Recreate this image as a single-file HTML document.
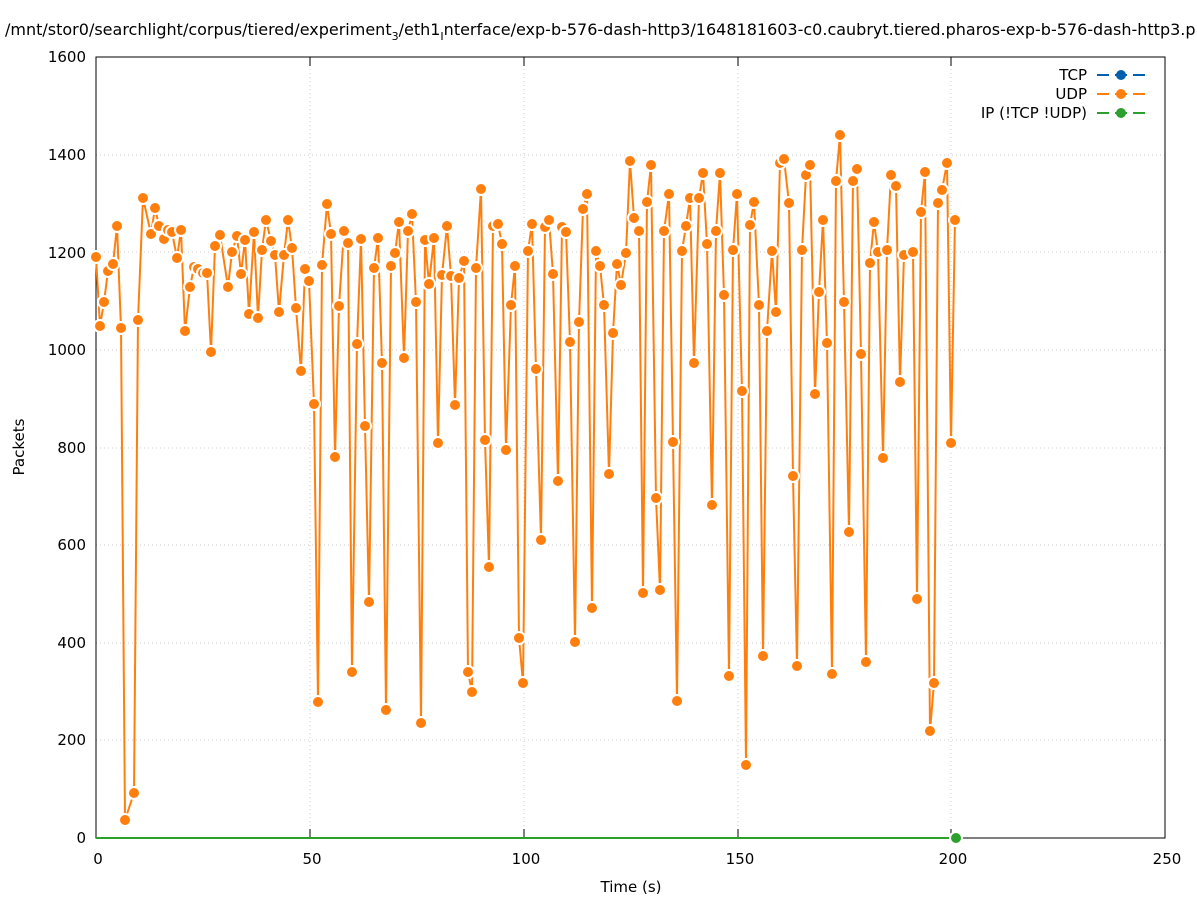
<!DOCTYPE html>
<html><head><meta charset="utf-8"><style>
body{margin:0;background:#fff;}
svg text{font-family:"DejaVu Sans","Liberation Sans",sans-serif;font-size:15px;fill:#000;}
</style></head><body>
<svg id="s" width="1197" height="900" xmlns="http://www.w3.org/2000/svg">
<rect width="1197" height="900" fill="#fff"/>
<text x="5" y="35" style="font-size:16px">/mnt/stor0/searchlight/corpus/tiered/experiment<tspan style="font-size:11px" dy="5">3</tspan><tspan dy="-5">/eth1</tspan><tspan style="font-size:11px" dy="5">I</tspan><tspan dy="-5">nterface/exp-b-576-dash-http3/1648181603-c0.caubryt.tiered.pharos-exp-b-576-dash-http3.p</tspan></text>
<g stroke="#ccc" stroke-dasharray="1,3" stroke-width="1">
<line x1="310" y1="57" x2="310" y2="838"/><line x1="524" y1="57" x2="524" y2="838"/><line x1="738" y1="57" x2="738" y2="838"/><line x1="951" y1="57" x2="951" y2="838"/>
<line x1="96" y1="740" x2="1165" y2="740"/><line x1="96" y1="643" x2="1165" y2="643"/><line x1="96" y1="545" x2="1165" y2="545"/><line x1="96" y1="448" x2="1165" y2="448"/><line x1="96" y1="350" x2="1165" y2="350"/><line x1="96" y1="252" x2="1165" y2="252"/><line x1="96" y1="155" x2="1165" y2="155"/>
</g>
<rect x="96" y="57" width="1069" height="781" fill="none" stroke="#000" stroke-width="1"/>
<g stroke="#000">
<line x1="96" y1="838" x2="96" y2="829"/><line x1="310" y1="838" x2="310" y2="829"/><line x1="524" y1="838" x2="524" y2="829"/><line x1="738" y1="838" x2="738" y2="829"/><line x1="951" y1="838" x2="951" y2="829"/><line x1="1165" y1="838" x2="1165" y2="829"/>
<line x1="96" y1="57" x2="96" y2="66"/><line x1="310" y1="57" x2="310" y2="66"/><line x1="524" y1="57" x2="524" y2="66"/><line x1="738" y1="57" x2="738" y2="66"/><line x1="951" y1="57" x2="951" y2="66"/><line x1="1165" y1="57" x2="1165" y2="66"/>
</g>
<g text-anchor="middle">
<text x="98" y="864">0</text><text x="312" y="864">50</text><text x="526" y="864">100</text><text x="740" y="864">150</text><text x="953" y="864">200</text><text x="1167" y="864">250</text>
<text x="631" y="892">Time (s)</text>
</g>
<g text-anchor="end">
<text x="86" y="843">0</text><text x="86" y="745">200</text><text x="86" y="648">400</text><text x="86" y="550">600</text><text x="86" y="453">800</text><text x="86" y="355">1000</text><text x="86" y="258">1200</text><text x="86" y="160">1400</text><text x="86" y="62">1600</text>
<text x="1087" y="80">TCP</text><text x="1087" y="99">UDP</text><text x="1087" y="118">IP (!TCP  !UDP)</text>
</g>
<text transform="translate(24,447) rotate(-90)" text-anchor="middle">Packets</text>
<g stroke-width="2">
<line x1="1097" y1="75" x2="1145" y2="75" stroke="#0060ad" stroke-dasharray="12,6"/><circle cx="1121" cy="75" r="5" fill="#0060ad"/>
<line x1="1097" y1="94" x2="1145" y2="94" stroke="#ff7f0e" stroke-dasharray="12,6"/><circle cx="1121" cy="94" r="5" fill="#ff7f0e"/>
<line x1="1097" y1="113" x2="1145" y2="113" stroke="#2ca02c" stroke-dasharray="12,6"/><circle cx="1121" cy="113" r="5" fill="#2ca02c"/>
</g>
<line x1="96" y1="838" x2="956" y2="838" stroke="#2ca02c" stroke-width="2"/>
<g id="g"></g>
<circle cx="956" cy="838" r="6" fill="#2ca02c" stroke="#fff" stroke-width="2"/>
</svg>
<script>
var p="96,257 100,326 104,302 108,271 113,264 117,226 121,328 125,820 134,793 138,320 143,198 151,234 155,208 159,226 164,239 168,230 172,232 177,258 181,230 185,331 190,287 194,267 198,269 203,273 207,273 211,352 215,246 220,235 228,287 232,252 237,236 241,274 245,240 249,314 254,232 258,318 262,250 266,220 271,241 275,255 279,312 284,255 288,220 292,248 296,308 301,371 305,269 309,281 314,404 318,702 322,265 327,204 331,234 335,457 339,306 344,231 348,243 352,672 357,344 361,239 365,426 369,602 374,268 378,238 382,363 386,710 391,266 395,253 399,222 404,358 408,231 412,214 416,302 421,723 425,240 429,284 434,238 438,443 442,275 447,226 451,276 455,405 459,278 464,261 468,672 472,692 476,268 481,189 485,440 489,567 493,226 498,224 502,244 506,450 511,305 515,266 519,638 523,683 528,251 532,224 536,369 541,540 545,227 549,220 553,274 558,481 562,227 566,232 570,342 575,642 579,322 583,209 587,194 592,608 596,251 600,266 604,305 609,474 613,333 617,264 621,285 626,253 630,161 634,218 639,231 643,593 647,202 651,165 656,498 660,590 664,231 669,194 673,442 677,701 682,251 686,226 690,198 694,363 699,198 703,173 707,244 712,505 716,231 720,173 724,295 729,676 733,250 737,194 742,391 746,765 750,225 754,202 759,305 763,656 767,331 772,251 776,312 780,163 784,159 789,203 793,476 797,666 802,250 806,175 810,165 815,394 819,292 823,220 827,343 832,674 836,181 840,135 844,302 849,532 853,181 857,169 861,354 866,662 870,263 874,222 878,252 883,458 887,250 891,175 896,186 900,382 904,255 913,252 917,599 921,212 925,172 930,731 934,683 938,203 942,190 947,163 951,443 955,220";
var ns="http://www.w3.org/2000/svg",g=document.getElementById("g");
var pl=document.createElementNS(ns,"polyline");pl.setAttribute("points",p);pl.setAttribute("fill","none");pl.setAttribute("stroke","#ff7f0e");pl.setAttribute("stroke-width","2");g.appendChild(pl);
p.split(" ").forEach(function(q){var a=q.split(","),c=document.createElementNS(ns,"circle");c.setAttribute("cx",a[0]);c.setAttribute("cy",a[1]);c.setAttribute("r","6");c.setAttribute("fill","#ff7f0e");c.setAttribute("stroke","#fff");c.setAttribute("stroke-width","2");g.appendChild(c);});
</script>
</body></html>
